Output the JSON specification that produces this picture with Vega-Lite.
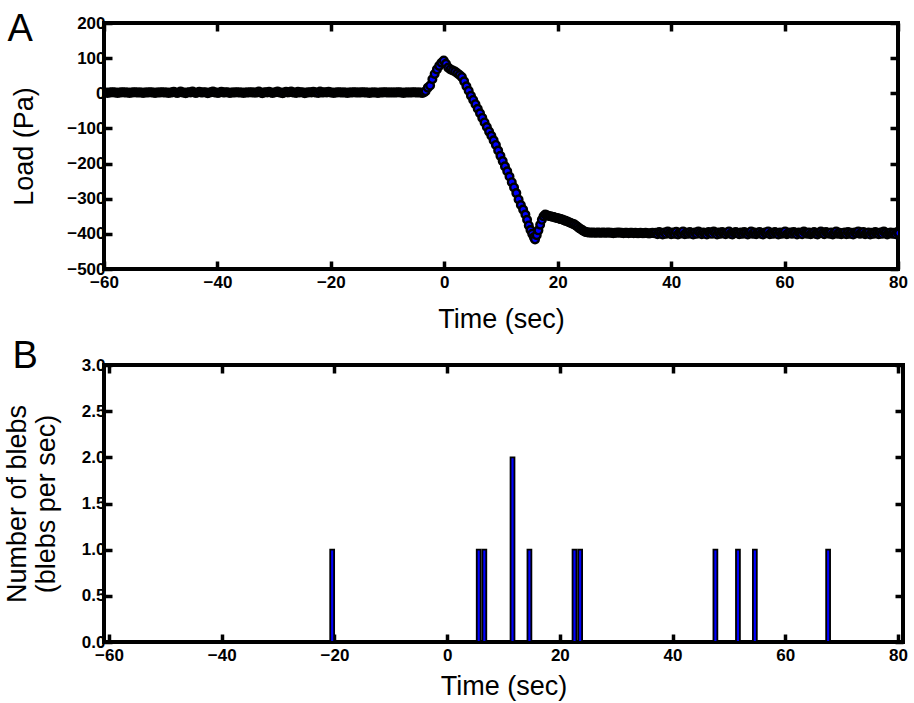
{
  "$schema": "https://vega.github.io/schema/vega-lite/v6.json",
  "background": "white",
  "padding": {"left": 1, "top": 8, "right": 2, "bottom": 0},
  "config": {
    "font": "Liberation Sans",
    "view": {"stroke": "black", "strokeWidth": 4},
    "axis": {
      "domain": false,
      "grid": false,
      "minExtent": 0,
      "labelFlush": false,
      "labelOverlap": false,
      "tickColor": "black",
      "tickSize": -8,
      "tickWidth": 3.5,
      "labelFont": "Liberation Sans",
      "labelFontWeight": "bold",
      "labelFontSize": 17,
      "labelColor": "black",
      "labelPadding": 7,
      "titleFont": "Liberation Sans",
      "titleFontWeight": "normal",
      "titleFontSize": 27,
      "titleColor": "black"
    },
    "axisBottom": {"labelPadding": 13, "labelFlush": false}
  },
  "datasets": {
    "load": [
      {"t":-60,"p":2},{"t":-59.7,"p":2},{"t":-59.4,"p":1},{"t":-59.1,"p":2},{"t":-58.8,"p":2},{"t":-58.5,"p":3},{"t":-58.2,"p":2},{"t":-57.9,"p":2},{"t":-57.6,"p":1},{"t":-57.3,"p":2},
      {"t":-57,"p":2},{"t":-56.7,"p":3},{"t":-56.4,"p":2},{"t":-56.1,"p":2},{"t":-55.8,"p":2},{"t":-55.5,"p":1},{"t":-55.2,"p":2},{"t":-54.9,"p":2},{"t":-54.6,"p":3},{"t":-54.3,"p":2},
      {"t":-54,"p":2},{"t":-53.7,"p":2},{"t":-53.4,"p":2},{"t":-53.1,"p":1},{"t":-52.8,"p":2},{"t":-52.5,"p":2},{"t":-52.2,"p":2},{"t":-51.9,"p":3},{"t":-51.6,"p":2},{"t":-51.3,"p":2},
      {"t":-51,"p":1},{"t":-50.7,"p":2},{"t":-50.4,"p":2},{"t":-50.1,"p":2},{"t":-49.8,"p":3},{"t":-49.5,"p":2},{"t":-49.2,"p":2},{"t":-48.9,"p":2},{"t":-48.6,"p":1},{"t":-48.3,"p":2},
      {"t":-48,"p":2},{"t":-47.7,"p":4},{"t":-47.4,"p":2},{"t":-47.1,"p":1},{"t":-46.8,"p":2},{"t":-46.5,"p":5},{"t":-46.2,"p":2},{"t":-45.9,"p":2},{"t":-45.6,"p":0},{"t":-45.3,"p":2},
      {"t":-45,"p":3},{"t":-44.7,"p":2},{"t":-44.4,"p":5},{"t":-44.1,"p":2},{"t":-43.8,"p":1},{"t":-43.5,"p":2},{"t":-43.2,"p":4},{"t":-42.9,"p":2},{"t":-42.6,"p":2},{"t":-42.3,"p":3},
      {"t":-42,"p":2},{"t":-41.7,"p":0},{"t":-41.4,"p":2},{"t":-41.1,"p":3},{"t":-40.8,"p":5},{"t":-40.5,"p":2},{"t":-40.2,"p":2},{"t":-39.9,"p":1},{"t":-39.6,"p":2},{"t":-39.3,"p":4},
      {"t":-39,"p":2},{"t":-38.7,"p":2},{"t":-38.4,"p":3},{"t":-38.1,"p":2},{"t":-37.8,"p":1},{"t":-37.5,"p":2},{"t":-37.2,"p":2},{"t":-36.9,"p":2},{"t":-36.6,"p":3},{"t":-36.3,"p":2},
      {"t":-36,"p":2},{"t":-35.7,"p":2},{"t":-35.4,"p":1},{"t":-35.1,"p":2},{"t":-34.8,"p":2},{"t":-34.5,"p":2},{"t":-34.2,"p":3},{"t":-33.9,"p":2},{"t":-33.6,"p":2},{"t":-33.3,"p":2},
      {"t":-33,"p":2},{"t":-32.7,"p":5},{"t":-32.4,"p":2},{"t":-32.1,"p":0},{"t":-31.8,"p":2},{"t":-31.5,"p":3},{"t":-31.2,"p":2},{"t":-30.9,"p":4},{"t":-30.6,"p":2},{"t":-30.3,"p":1},
      {"t":-30,"p":2},{"t":-29.7,"p":3},{"t":-29.4,"p":5},{"t":-29.1,"p":2},{"t":-28.8,"p":2},{"t":-28.5,"p":0},{"t":-28.2,"p":2},{"t":-27.9,"p":4},{"t":-27.6,"p":2},{"t":-27.3,"p":3},
      {"t":-27,"p":5},{"t":-26.7,"p":2},{"t":-26.4,"p":2},{"t":-26.1,"p":1},{"t":-25.8,"p":4},{"t":-25.5,"p":2},{"t":-25.2,"p":3},{"t":-24.9,"p":2},{"t":-24.6,"p":0},{"t":-24.3,"p":2},
      {"t":-24,"p":2},{"t":-23.7,"p":3},{"t":-23.4,"p":2},{"t":-23.1,"p":4},{"t":-22.8,"p":2},{"t":-22.5,"p":2},{"t":-22.2,"p":1},{"t":-21.9,"p":5},{"t":-21.6,"p":2},{"t":-21.3,"p":2},
      {"t":-21,"p":3},{"t":-20.7,"p":2},{"t":-20.4,"p":4},{"t":-20.1,"p":2},{"t":-19.8,"p":2},{"t":-19.5,"p":1},{"t":-19.2,"p":2},{"t":-18.9,"p":2},{"t":-18.6,"p":3},{"t":-18.3,"p":2},
      {"t":-18,"p":2},{"t":-17.7,"p":2},{"t":-17.4,"p":2},{"t":-17.1,"p":1},{"t":-16.8,"p":2},{"t":-16.5,"p":2},{"t":-16.2,"p":2},{"t":-15.9,"p":3},{"t":-15.6,"p":2},{"t":-15.3,"p":2},
      {"t":-15,"p":2},{"t":-14.7,"p":2},{"t":-14.4,"p":3},{"t":-14.1,"p":2},{"t":-13.8,"p":2},{"t":-13.5,"p":2},{"t":-13.2,"p":1},{"t":-12.9,"p":2},{"t":-12.6,"p":2},{"t":-12.3,"p":2},
      {"t":-12,"p":2},{"t":-11.7,"p":1},{"t":-11.4,"p":2},{"t":-11.1,"p":2},{"t":-10.8,"p":2},{"t":-10.5,"p":3},{"t":-10.2,"p":2},{"t":-9.9,"p":2},{"t":-9.6,"p":2},{"t":-9.3,"p":2},
      {"t":-9,"p":2},{"t":-8.7,"p":2},{"t":-8.4,"p":2},{"t":-8.1,"p":3},{"t":-7.8,"p":2},{"t":-7.5,"p":2},{"t":-7.2,"p":1},{"t":-6.9,"p":2},{"t":-6.6,"p":2},{"t":-6.3,"p":2},
      {"t":-6,"p":2},{"t":-5.7,"p":2},{"t":-5.4,"p":3},{"t":-5.1,"p":2},{"t":-4.8,"p":2},{"t":-4.5,"p":2},{"t":-4.2,"p":2},{"t":-3.9,"p":1},
      {"t":-3.6,"p":2},{"t":-3.3,"p":6},{"t":-2.9,"p":16},{"t":-2.5,"p":22},{"t":-2.1,"p":40},{"t":-1.7,"p":55},{"t":-1.3,"p":68},{"t":-0.9,"p":78},{"t":-0.5,"p":87},{"t":-0.1,"p":93},
      {"t":0.3,"p":84},{"t":0.7,"p":73},{"t":1.1,"p":68},{"t":1.5,"p":65},{"t":1.9,"p":62},{"t":2.3,"p":57},{"t":2.7,"p":52},{"t":3.1,"p":46},{"t":3.5,"p":34},{"t":3.9,"p":20},
      {"t":4.3,"p":7},{"t":4.7,"p":-7},{"t":5.1,"p":-19},{"t":5.5,"p":-31},{"t":5.9,"p":-44},{"t":6.3,"p":-57},{"t":6.7,"p":-70},{"t":7.1,"p":-83},{"t":7.5,"p":-96},{"t":7.9,"p":-109},
      {"t":8.3,"p":-121},{"t":8.7,"p":-134},{"t":9.1,"p":-147},{"t":9.5,"p":-163},{"t":9.9,"p":-178},{"t":10.3,"p":-193},{"t":10.7,"p":-208},{"t":11.1,"p":-222},{"t":11.5,"p":-237},{"t":11.9,"p":-253},
      {"t":12.3,"p":-268},{"t":12.7,"p":-284},{"t":13.1,"p":-302},{"t":13.5,"p":-318},{"t":13.9,"p":-331},{"t":14.3,"p":-345},{"t":14.6,"p":-360},{"t":14.9,"p":-376},{"t":15.2,"p":-389},{"t":15.5,"p":-400},
      {"t":15.8,"p":-410},{"t":16,"p":-416},{"t":16.3,"p":-404},{"t":16.6,"p":-390},{"t":16.9,"p":-374},{"t":17.2,"p":-360},{"t":17.5,"p":-350},{"t":17.8,"p":-345},{"t":18.1,"p":-347},{"t":18.4,"p":-349},
      {"t":18.7,"p":-350},{"t":19,"p":-351},{"t":19.3,"p":-352},{"t":19.6,"p":-354},{"t":19.9,"p":-355},{"t":20.2,"p":-356},{"t":20.5,"p":-358},{"t":20.8,"p":-359},{"t":21.1,"p":-361},{"t":21.4,"p":-363},
      {"t":21.7,"p":-365},{"t":22,"p":-367},{"t":22.3,"p":-369},{"t":22.6,"p":-371},{"t":22.9,"p":-373},{"t":23.2,"p":-376},{"t":23.5,"p":-380},{"t":23.8,"p":-384},{"t":24.1,"p":-387},{"t":24.4,"p":-390},
      {"t":24.7,"p":-393},{"t":25,"p":-395},
      {"t":25.3,"p":-396},{"t":25.6,"p":-396},{"t":25.9,"p":-397},{"t":26.2,"p":-396},{"t":26.5,"p":-397},{"t":26.8,"p":-397},{"t":27.1,"p":-396},{"t":27.4,"p":-397},{"t":27.7,"p":-397},{"t":28,"p":-396},
      {"t":28.3,"p":-397},{"t":28.6,"p":-397},{"t":28.9,"p":-396},{"t":29.2,"p":-397},{"t":29.5,"p":-397},{"t":29.8,"p":-398},{"t":30.1,"p":-397},{"t":30.4,"p":-397},{"t":30.7,"p":-396},{"t":31,"p":-397},
      {"t":31.3,"p":-397},{"t":31.6,"p":-398},{"t":31.9,"p":-397},{"t":32.2,"p":-397},{"t":32.5,"p":-398},{"t":32.8,"p":-397},{"t":33.1,"p":-397},{"t":33.4,"p":-398},{"t":33.7,"p":-397},{"t":34,"p":-398},
      {"t":34.3,"p":-398},{"t":34.6,"p":-397},{"t":34.9,"p":-398},{"t":35.2,"p":-398},{"t":35.5,"p":-397},{"t":35.8,"p":-398},{"t":36.1,"p":-399},{"t":36.4,"p":-398},{"t":36.7,"p":-397},{"t":37,"p":-398},
      {"t":37.3,"p":-397},{"t":37.6,"p":-401},{"t":37.9,"p":-395},{"t":38.2,"p":-398},{"t":38.5,"p":-402},{"t":38.8,"p":-396},{"t":39.1,"p":-400},{"t":39.4,"p":-393},{"t":39.7,"p":-398},{"t":40,"p":-401},
      {"t":40.3,"p":-396},{"t":40.6,"p":-400},{"t":40.9,"p":-394},{"t":41.2,"p":-402},{"t":41.5,"p":-397},{"t":41.8,"p":-399},{"t":42.1,"p":-393},{"t":42.4,"p":-401},{"t":42.7,"p":-397},{"t":43,"p":-400},
      {"t":43.3,"p":-395},{"t":43.6,"p":-399},{"t":43.9,"p":-402},{"t":44.2,"p":-396},{"t":44.5,"p":-400},{"t":44.8,"p":-393},{"t":45.1,"p":-397},{"t":45.4,"p":-401},{"t":45.7,"p":-396},{"t":46,"p":-399},
      {"t":46.3,"p":-402},{"t":46.6,"p":-395},{"t":46.9,"p":-398},{"t":47.2,"p":-400},{"t":47.5,"p":-393},{"t":47.8,"p":-397},{"t":48.1,"p":-402},{"t":48.4,"p":-396},{"t":48.7,"p":-400},{"t":49,"p":-395},
      {"t":49.3,"p":-398},{"t":49.6,"p":-401},{"t":49.9,"p":-396},{"t":50.2,"p":-393},{"t":50.5,"p":-400},{"t":50.8,"p":-402},{"t":51.1,"p":-397},{"t":51.4,"p":-395},{"t":51.7,"p":-398},{"t":52,"p":-401},
      {"t":52.3,"p":-396},{"t":52.6,"p":-400},{"t":52.9,"p":-395},{"t":53.2,"p":-398},{"t":53.5,"p":-402},{"t":53.8,"p":-397},{"t":54.1,"p":-393},{"t":54.4,"p":-400},{"t":54.7,"p":-396},{"t":55,"p":-401},
      {"t":55.3,"p":-397},{"t":55.6,"p":-395},{"t":55.9,"p":-400},{"t":56.2,"p":-402},{"t":56.5,"p":-396},{"t":56.8,"p":-398},{"t":57.1,"p":-393},{"t":57.4,"p":-401},{"t":57.7,"p":-397},{"t":58,"p":-400},
      {"t":58.3,"p":-395},{"t":58.6,"p":-398},{"t":58.9,"p":-402},{"t":59.2,"p":-396},{"t":59.5,"p":-400},{"t":59.8,"p":-397},{"t":60.1,"p":-393},{"t":60.4,"p":-401},{"t":60.7,"p":-398},{"t":61,"p":-396},
      {"t":61.3,"p":-400},{"t":61.6,"p":-395},{"t":61.9,"p":-397},{"t":62.2,"p":-402},{"t":62.5,"p":-396},{"t":62.8,"p":-398},{"t":63.1,"p":-401},{"t":63.4,"p":-393},{"t":63.7,"p":-397},{"t":64,"p":-400},
      {"t":64.3,"p":-396},{"t":64.6,"p":-401},{"t":64.9,"p":-398},{"t":65.2,"p":-395},{"t":65.5,"p":-400},{"t":65.8,"p":-402},{"t":66.1,"p":-397},{"t":66.4,"p":-393},{"t":66.7,"p":-398},{"t":67,"p":-401},
      {"t":67.3,"p":-395},{"t":67.6,"p":-397},{"t":67.9,"p":-400},{"t":68.2,"p":-396},{"t":68.5,"p":-402},{"t":68.8,"p":-398},{"t":69.1,"p":-393},{"t":69.4,"p":-400},{"t":69.7,"p":-397},{"t":70,"p":-401},
      {"t":70.3,"p":-398},{"t":70.6,"p":-396},{"t":70.9,"p":-401},{"t":71.2,"p":-395},{"t":71.5,"p":-400},{"t":71.8,"p":-397},{"t":72.1,"p":-402},{"t":72.4,"p":-396},{"t":72.7,"p":-398},{"t":73,"p":-393},
      {"t":73.3,"p":-400},{"t":73.6,"p":-397},{"t":73.9,"p":-395},{"t":74.2,"p":-401},{"t":74.5,"p":-398},{"t":74.8,"p":-396},{"t":75.1,"p":-402},{"t":75.4,"p":-397},{"t":75.7,"p":-400},{"t":76,"p":-395},
      {"t":76.3,"p":-398},{"t":76.6,"p":-401},{"t":76.9,"p":-396},{"t":77.2,"p":-400},{"t":77.5,"p":-393},{"t":77.8,"p":-397},{"t":78.1,"p":-402},{"t":78.4,"p":-398},{"t":78.7,"p":-396},{"t":79,"p":-400},
      {"t":79.3,"p":-397},{"t":79.6,"p":-401},{"t":79.9,"p":-395},{"t":80.2,"p":-398}
    ],
    "blebs": [
      {"t":-20.4,"n":1},
      {"t":5.6,"n":1},
      {"t":6.6,"n":1},
      {"t":11.6,"n":2},
      {"t":14.6,"n":1},
      {"t":22.6,"n":1},
      {"t":23.6,"n":1},
      {"t":47.6,"n":1},
      {"t":51.6,"n":1},
      {"t":54.6,"n":1},
      {"t":67.6,"n":1}
    ]
  },
  "spacing": 1,
  "vconcat": [
    {
      "width": 794,
      "height": 246,
      "data": {"name": "load"},
      "layer": [
        {
          "mark": {"type": "circle", "fill": "blue", "stroke": "black", "strokeWidth": 2.4, "size": 58, "opacity": 1, "clip": true},
          "encoding": {
            "x": {"field": "t", "type": "quantitative",
              "scale": {"domain": [-60, 80], "nice": false, "zero": false},
              "axis": {"orient": "bottom", "values": [-60, -40, -20, 0, 20, 40, 60, 80], "labelFlush": false, "title": "Time (sec)", "titlePadding": 16}},
            "y": {"field": "p", "type": "quantitative",
              "scale": {"domain": [-500, 200], "nice": false, "zero": false},
              "axis": {"orient": "left", "values": [-500, -400, -300, -200, -100, 0, 100, 200], "labelFlush": false, "title": "Load (Pa)", "titlePadding": 28}}
          }
        },
        {
          "mark": {"type": "point", "opacity": 0},
          "encoding": {
            "x": {"field": "t", "type": "quantitative",
              "axis": {"orient": "top", "values": [-60, -40, -20, 0, 20, 40, 60, 80], "labels": false,
                "title": "A", "titleFontSize": 38, "titleAngle": 0, "titleAlign": "left", "titleBaseline": "alphabetic", "titleX": -97, "titleY": 17}},
            "y": {"field": "p", "type": "quantitative",
              "axis": {"orient": "right", "values": [-500, -400, -300, -200, -100, 0, 100, 200], "labels": false, "title": null}}
          }
        }
      ],
      "resolve": {"axis": {"x": "independent", "y": "independent"}}
    },
    {
      "width": 799,
      "height": 277,
      "data": {"name": "blebs"},
      "layer": [
        {
          "mark": {"type": "bar", "fill": "blue", "stroke": "black", "strokeWidth": 1.8, "width": 3.9, "clip": true},
          "encoding": {
            "x": {"field": "t", "type": "quantitative",
              "scale": {"domain": [-60, 80], "nice": false, "zero": false},
              "axis": {"orient": "bottom", "values": [-60, -40, -20, 0, 20, 40, 60, 80], "labelFlush": false, "title": "Time (sec)", "titlePadding": 10}},
            "y": {"field": "n", "type": "quantitative",
              "scale": {"domain": [0, 3], "nice": false},
              "axis": {"orient": "left", "values": [0, 0.5, 1, 1.5, 2, 2.5, 3], "format": ".1f", "labelFlush": false, "title": ["Number of blebs", "(blebs per sec)"], "titleLineHeight": 29, "titlePadding": 21}}
          }
        },
        {
          "mark": {"type": "point", "opacity": 0},
          "encoding": {
            "x": {"field": "t", "type": "quantitative",
              "axis": {"orient": "top", "values": [-60, -40, -20, 0, 20, 40, 60, 80], "labels": false,
                "title": "B", "titleFontSize": 38, "titleAngle": 0, "titleAlign": "left", "titleBaseline": "alphabetic", "titleX": -92, "titleY": 2}},
            "y": {"field": "n", "type": "quantitative",
              "axis": {"orient": "right", "values": [0, 0.5, 1, 1.5, 2, 2.5, 3], "labels": false, "title": null}}
          }
        }
      ],
      "resolve": {"axis": {"x": "independent", "y": "independent"}}
    }
  ]
}
